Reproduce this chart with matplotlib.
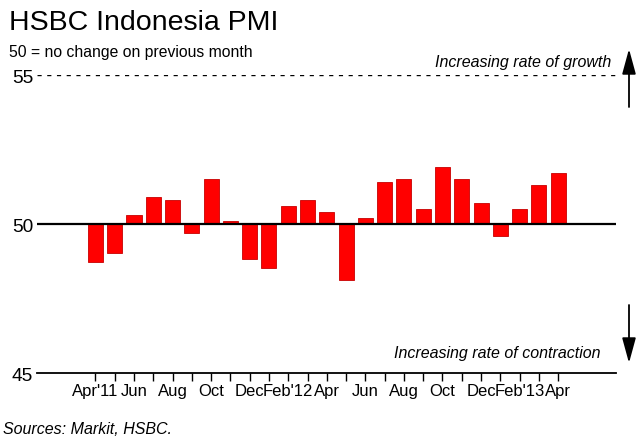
import matplotlib
matplotlib.use("Agg")
import matplotlib.pyplot as plt
from matplotlib.transforms import offset_copy
from matplotlib.patches import FancyArrowPatch
import numpy as np

plt.rcParams['font.family'] = ['Liberation Sans', 'DejaVu Sans']

months = ["Apr'11", "May", "Jun", "Jul", "Aug", "Sep", "Oct", "Nov", "Dec",
          "Jan'12", "Feb'12", "Mar", "Apr", "May", "Jun", "Jul", "Aug", "Sep",
          "Oct", "Nov", "Dec", "Jan'13", "Feb'13", "Mar", "Apr"]
tick_labels = ["Apr'11", "", "Jun", "", "Aug", "", "Oct", "", "Dec", "",
               "Feb'12", "", "Apr", "", "Jun", "", "Aug", "", "Oct", "",
               "Dec", "", "Feb'13", "", "Apr"]
pmi = [48.7, 49.0, 50.3, 50.9, 50.8, 49.7, 51.5, 50.1, 48.8, 48.5,
       50.6, 50.8, 50.4, 48.1, 50.2, 51.4, 51.5, 50.5, 51.9, 51.5,
       50.7, 49.6, 50.5, 51.3, 51.7]
y_ticks = [45, 50, 55]
baseline = 50

W, H = 640, 443
fig = plt.figure(figsize=(W / 100, H / 100), dpi=100)
ax = fig.add_axes([37 / W, (H - 372.7) / H, (616 - 37) / W, (372.7 - 74.5) / H])

x = np.arange(len(months))
vals = np.array(pmi) - baseline
ax.bar(x, vals, bottom=baseline, width=0.78, color='#ff0000',
       edgecolor='#c80000', linewidth=0.6, zorder=2)

ax.set_xlim(-3.03, 27.0)
ax.set_ylim(45, 55)

ax.axhline(baseline, color='black', lw=1.6, zorder=3)
ax.axhline(55, color='black', lw=1.0, dashes=(3, 4), zorder=1)

for s in ['top', 'right', 'left']:
    ax.spines[s].set_visible(False)
ax.spines['bottom'].set_linewidth(1.3)

ax.set_xticks(x)
ax.set_xticklabels(tick_labels, fontsize=12)
ax.tick_params(axis='x', direction='out', length=5.8, width=1.0, pad=2)
ax.set_yticks([])

ytrans = offset_copy(ax.get_yaxis_transform(), fig=fig, x=-4, y=-4, units='dots')
for yv in y_ticks:
    ax.text(0, yv, str(yv), transform=ytrans, ha='right', va='center', fontsize=13.8)

def fy(py):
    return 1 - py / H

fig.text(9 / W, fy(30), "HSBC Indonesia PMI", fontsize=20.5, va='baseline', ha='left')
fig.text(9 / W, fy(57), "50 = no change on previous month", fontsize=11.3, va='baseline', ha='left')
fig.text(611 / W, fy(66.7), "Increasing rate of growth", fontsize=11.5, style='italic',
         va='baseline', ha='right')
fig.text(600 / W, fy(358), "Increasing rate of contraction", fontsize=11.5, style='italic',
         va='baseline', ha='right')
fig.text(3 / W, fy(434), "Sources: Markit, HSBC.", fontsize=11.5, style='italic',
         va='baseline', ha='left')

arrow_style = '-|>,head_length=1.1,head_width=0.3'
fig.add_artist(FancyArrowPatch(
    (629 / W, fy(107)), (629 / W, fy(49)), transform=fig.transFigure,
    arrowstyle=arrow_style, mutation_scale=14, color='black', lw=1.3,
    shrinkA=0, shrinkB=0))
fig.add_artist(FancyArrowPatch(
    (629 / W, fy(305)), (629 / W, fy(363)), transform=fig.transFigure,
    arrowstyle=arrow_style, mutation_scale=14, color='black', lw=1.3,
    shrinkA=0, shrinkB=0))

fig.savefig("out.png", dpi=100)
